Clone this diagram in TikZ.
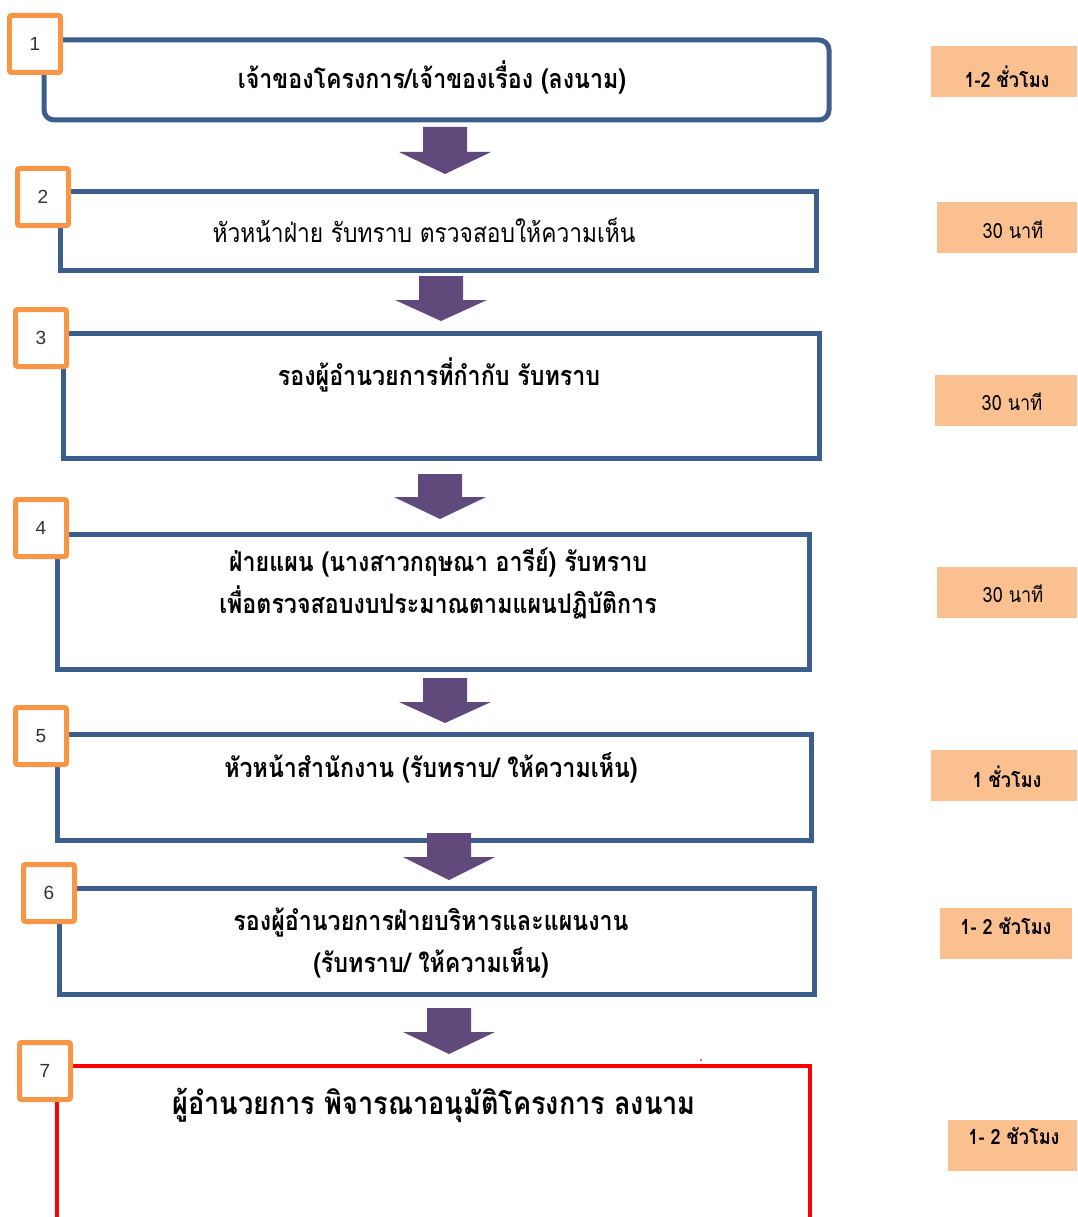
\documentclass[tikz,border=0pt]{standalone}
\usepackage{fontspec}
\setmainfont{Liberation Sans}
\newfontfamily\thai[Script=Thai, FakeStretch=0.86]{Loma}
\definecolor{boxblue}{HTML}{3B5E8C}
\definecolor{numorange}{HTML}{F79646}
\definecolor{timefill}{HTML}{FAC090}
\definecolor{arrowcol}{HTML}{604A7B}
\definecolor{redline}{HTML}{FF0000}
\newcommand{\fatarrow}[4]{%
  \fill[arrowcol] (#1-22,#2) -- (#1+22,#2) -- (#1+22,#3) -- (#1+46,#3) -- (#1,#4) -- (#1-46,#3) -- (#1-22,#3) -- cycle;}
\begin{document}
\begin{tikzpicture}[x=1pt,y=-1pt,
  stepbox/.style={draw=boxblue, line width=5pt, inner sep=0pt, anchor=north west},
  numbox/.style={draw=numorange, line width=5pt, fill=white, rounded corners=2pt,
     minimum width=51pt, minimum height=57pt, inner sep=0pt,
     font=\fontsize{19}{19}\selectfont, text=black!80},
  timebox/.style={fill=timefill, inner sep=0pt, anchor=north west},
  boldtxt/.style={font=\thai\bfseries\fontsize{27}{42}\selectfont, align=center, inner sep=0pt},
  normtxt/.style={font=\thai\fontsize{26.5}{42}\selectfont, align=center, inner sep=0pt},
  timetxt/.style={font=\thai\fontsize{21}{24}\selectfont, inner sep=0pt},
  timetxtb/.style={font=\thai\bfseries\fontsize{21}{24}\selectfont, inner sep=0pt}]
\useasboundingbox (0,0) rectangle (1077,1217);

% step boxes
\node (b1) [stepbox, rounded corners=10pt, minimum width=785pt, minimum height=80pt] at (41.5,37.5) {};
\node (b2) [stepbox, minimum width=756pt, minimum height=79pt] at (58,189) {};
\node (b3) [stepbox, minimum width=756pt, minimum height=125pt] at (60.5,330.5) {};
\node (b4) [stepbox, minimum width=752pt, minimum height=135pt] at (54.5,532) {};
\node (b5) [stepbox, minimum width=754pt, minimum height=106pt] at (54.5,731.5) {};
\node (b6) [stepbox, minimum width=755pt, minimum height=106pt] at (56.5,886) {};
\node (b7) [inner sep=0pt, anchor=north west, minimum width=753pt, minimum height=200pt] at (57,1066) {};
\draw[redline, line width=4pt] (b7.south west) -- (b7.north west) -- (b7.north east) -- (b7.south east);
\fill[redline] (701,1060) circle (1pt);

% texts
\node (t1) [boldtxt] at (432,77) {เจ้าของโครงการ/เจ้าของเรื่อง (ลงนาม)};
\node (t2) [normtxt] at (424,230) {หัวหน้าฝ่าย รับทราบ ตรวจสอบให้ความเห็น};
\node (t3) [boldtxt] at (439,375) {รองผู้อำนวยการที่กำกับ รับทราบ};
\node (t4) [boldtxt] at (438,583) {ฝ่ายแผน (นางสาวกฤษณา อารีย์) รับทราบ\\เพื่อตรวจสอบงบประมาณตามแผนปฏิบัติการ};
\node (t5) [boldtxt] at (431,768) {หัวหน้าสำนักงาน (รับทราบ/ ให้ความเห็น)};
\node (t6) [boldtxt] at (431,943) {รองผู้อำนวยการฝ่ายบริหารและแผนงาน\\(รับทราบ/ ให้ความเห็น)};
\node (t7) [boldtxt, font=\thai\bfseries\fontsize{31.5}{36}\selectfont] at (434,1105) {ผู้อำนวยการ พิจารณาอนุมัติโครงการ ลงนาม};

% number boxes
\node (n1) [numbox] at (35,44) {1};
\node (n2) [numbox] at (43,197) {2};
\node (n3) [numbox] at (41,338) {3};
\node (n4) [numbox] at (41,528) {4};
\node (n5) [numbox] at (41,736) {5};
\node (n6) [numbox] at (49,893) {6};
\node (n7) [numbox] at (45,1071) {7};

% time boxes
\node (k1) [timebox, minimum width=146pt, minimum height=51pt] at (931,46) {};
\node (k2) [timebox, minimum width=140pt, minimum height=51pt] at (937,202) {};
\node (k3) [timebox, minimum width=142pt, minimum height=51pt] at (935,375) {};
\node (k4) [timebox, minimum width=140pt, minimum height=51pt] at (937,567) {};
\node (k5) [timebox, minimum width=146pt, minimum height=51pt] at (931,750) {};
\node (k6) [timebox, minimum width=132pt, minimum height=51pt] at (940,908) {};
\node (k7) [timebox, minimum width=129pt, minimum height=51pt] at (948,1120) {};
\node (kt1) [timetxtb] at (1007,77) {1-2 ชั่วโมง};
\node (kt2) [timetxt] at (1013,230) {30 นาที};
\node (kt3) [timetxt] at (1012,402) {30 นาที};
\node (kt4) [timetxt] at (1013,594) {30 นาที};
\node (kt5) [timetxtb] at (1007,777) {1 ชั่วโมง};
\node (kt6) [timetxtb] at (1006,926) {1- 2 ชัวโมง};
\node (kt7) [timetxtb] at (1014,1136) {1- 2 ชัวโมง};

% arrows
\fatarrow{445}{127}{152}{174}
\fatarrow{441}{276}{300}{321}
\fatarrow{440}{474}{497}{519}
\fatarrow{445}{678}{702}{723}
\fatarrow{449}{833}{857}{880}
\fatarrow{449}{1008}{1032}{1054}
\end{tikzpicture}
\end{document}
